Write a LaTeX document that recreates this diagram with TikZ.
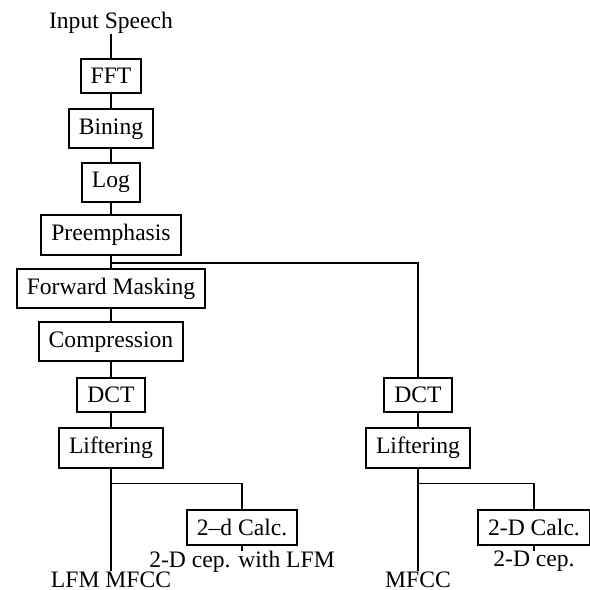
\documentclass[tikz,border=0pt]{standalone}
\usepackage{fontspec}
\setmainfont{Liberation Serif}
\usetikzlibrary{positioning}

\begin{document}
\begin{tikzpicture}[
    x=1pt, y=1pt,
    node distance=26.6pt, on grid,
    blk/.style={draw, line width=1pt, inner xsep=5pt, inner ysep=4.6pt,
      font=\fontsize{11.8}{14}\selectfont},
    txt/.style={inner sep=0pt, font=\fontsize{11.8}{14}\selectfont},
    wire/.style={line width=0.8pt},
  ]
    \useasboundingbox (0,0) rectangle (295,-295);

    % Main chain
    \node[txt] (in) at (55.5,-11.25) {Input Speech};
    \node[blk, below=of in] (fft) {FFT};
    \node[blk, below=of fft] (bin) {Bining};
    \node[blk, below=of bin] (log) {Log};
    \node[blk, below=of log] (pre) {Preemphasis};
    \node[blk, below=of pre] (fwd) {Forward Masking};
    \node[blk, below=of fwd] (comp) {Compression};
    \node[blk, below=of comp] (dct1) {DCT};
    \node[blk, below=of dct1] (lift1) {Liftering};

    % Right chain
    \node[blk, right=153.5pt of dct1] (dct2) {DCT};
    \node[blk, below=of dct2] (lift2) {Liftering};

    % 2-D blocks
    \node[blk, below right=39.75pt and 65.5pt of lift1] (calc1) {2--d Calc.};
    \node[blk, below right=39.75pt and 58pt of lift2] (calc2) {2-D Calc.};

    % Outputs
    \node[txt, below=65.6pt of lift1] (out1) {LFM MFCC};
    \node[txt, below=65.6pt of lift2] (out2) {MFCC};
    \node[txt, below=17pt of calc1] (cep1) {2-D cep. with LFM};
    \node[txt, below=17pt of calc2] (cep2) {2-D cep.};

    % Arrows between blocks
    \draw[wire] (in.south) -- (fft.north);
    \draw[wire] (fft) -- (bin);
    \draw[wire] (bin) -- (log);
    \draw[wire] (log) -- (pre);
    \draw[wire] (pre) -- (fwd);
    \draw[wire] (fwd) -- (comp);
    \draw[wire] (comp) -- (dct1);
    \draw[wire] (dct1) -- (lift1);
    \draw[wire] (dct2) -- (lift2);

    % Branch to right chain
    \draw[wire] (pre.south) -- ++(0,-3.25) -| (dct2.north);

    % Branches to outputs
    \draw[wire] (lift1.south) -- (out1.north);
    \draw[wire] (lift1.south) -- ++(0,-7.25) -| (calc1.north);
    \draw[wire] (calc1.south) -- (cep1.north);
    \draw[wire] (lift2.south) -- (out2.north);
    \draw[wire] (lift2.south) -- ++(0,-7.25) -| (calc2.north);
    \draw[wire] (calc2.south) -- (cep2.north);

  \end{tikzpicture}
\end{document}
